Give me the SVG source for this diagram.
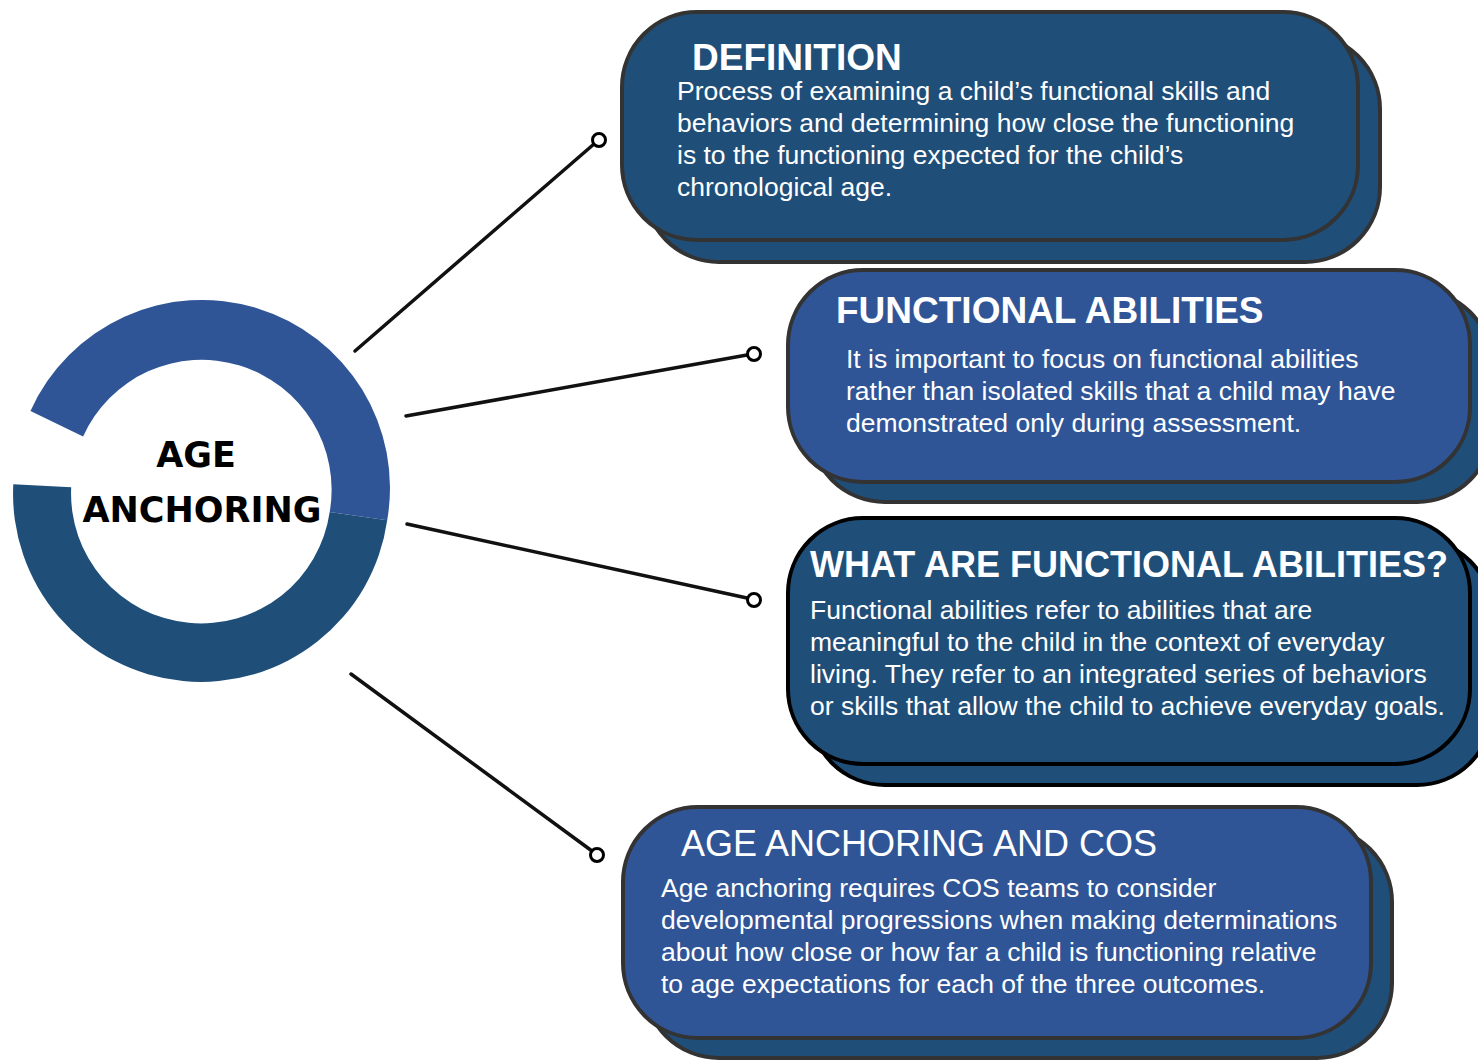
<svg xmlns="http://www.w3.org/2000/svg" width="1478" height="1062" viewBox="0 0 1478 1062">
<style>
.dark{fill:#1f4e79}
.light{fill:#2f5597}
.bd{stroke:#333333;stroke-width:4}
.bk{stroke:#000000;stroke-width:4}
.title{font-family:"Liberation Sans",Arial,sans-serif;font-weight:bold;font-size:37px;fill:#ffffff}
.title3{font-family:"Liberation Sans",Arial,sans-serif;font-weight:bold;font-size:36px;fill:#ffffff}
.title2{font-family:"Liberation Sans",Arial,sans-serif;font-size:36px;fill:#ffffff}
.body{font-family:"Liberation Sans",Arial,sans-serif;font-size:26.5px;fill:#ffffff}
.hub{font-family:"DejaVu Sans",Verdana,sans-serif;font-weight:bold;font-size:35px;fill:#000000;stroke:#ffffff;stroke-width:2;paint-order:stroke;text-anchor:middle}
.conn{stroke:#111111;stroke-width:3.5;fill:none;stroke-linecap:round}
.term{fill:#ffffff;stroke:#000000;stroke-width:3}
</style>
<rect width="1478" height="1062" fill="#ffffff"/>

<g id="hub">
  <path d="M30.5,410.9 A188,188 0 0 1 387.2,520.2 L329.7,512.1 A130,130 0 0 0 83.1,436.4 Z" fill="#2f5597"/>
  <path d="M387.2,520.2 A188,188 0 0 1 13.3,484.2 L71.2,487.2 A130,130 0 0 0 329.7,512.1 Z" fill="#1f4e79"/>
  <text class="hub" x="196" y="467">AGE</text>
  <text class="hub" x="202" y="522">ANCHORING</text>
</g>

<g id="connectors">
  <line class="conn" x1="355" y1="351" x2="594" y2="144"/>
  <circle class="term" cx="599" cy="140" r="6.5"/>
  <line class="conn" x1="406" y1="416" x2="747" y2="355"/>
  <circle class="term" cx="754" cy="354" r="6.5"/>
  <line class="conn" x1="407" y1="524" x2="747" y2="598"/>
  <circle class="term" cx="754" cy="600" r="6.5"/>
  <line class="conn" x1="351" y1="674" x2="592" y2="851"/>
  <circle class="term" cx="597" cy="855" r="6.5"/>
</g>

<g id="definition">
  <rect class="dark bd" x="644" y="34" width="736" height="228" rx="75" ry="75"/>
  <rect class="dark bd" x="622" y="12" width="736" height="228" rx="75" ry="75"/>
  <text class="title" x="692" y="70">DEFINITION</text>
  <text class="body" x="677" y="100">Process of examining a child’s functional skills and</text>
  <text class="body" x="677" y="132">behaviors and determining how close the functioning</text>
  <text class="body" x="677" y="164">is to the functioning expected for the child’s</text>
  <text class="body" x="677" y="196">chronological age.</text>
</g>

<g id="functional-abilities">
  <rect class="dark bd" x="810" y="290" width="682" height="212" rx="75" ry="75"/>
  <rect class="light bd" x="788" y="270" width="682" height="212" rx="75" ry="75"/>
  <text class="title" x="836" y="323">FUNCTIONAL ABILITIES</text>
  <text class="body" x="846" y="368">It is important to focus on functional abilities</text>
  <text class="body" x="846" y="400">rather than isolated skills that a child may have</text>
  <text class="body" x="846" y="432">demonstrated only during assessment.</text>
</g>

<g id="what-are">
  <rect class="dark bk" x="810" y="539" width="682" height="246" rx="75" ry="75"/>
  <rect class="dark bk" x="788" y="518" width="682" height="246" rx="75" ry="75"/>
  <text class="title3" x="810" y="577">WHAT ARE FUNCTIONAL ABILITIES?</text>
  <text class="body" x="810" y="619">Functional abilities refer to abilities that are</text>
  <text class="body" x="810" y="651">meaningful to the child in the context of everyday</text>
  <text class="body" x="810" y="683">living. They refer to an integrated series of behaviors</text>
  <text class="body" x="810" y="715">or skills that allow the child to achieve everyday goals.</text>
</g>

<g id="age-anchoring-cos">
  <rect class="dark bd" x="644" y="827" width="748" height="231" rx="75" ry="75"/>
  <rect class="light bd" x="623" y="807" width="748" height="231" rx="75" ry="75"/>
  <text class="title2" x="681" y="856">AGE ANCHORING AND COS</text>
  <text class="body" x="661" y="897">Age anchoring requires COS teams to consider</text>
  <text class="body" x="661" y="929">developmental progressions when making determinations</text>
  <text class="body" x="661" y="961">about how close or how far a child is functioning relative</text>
  <text class="body" x="661" y="993">to age expectations for each of the three outcomes.</text>
</g>
</svg>
